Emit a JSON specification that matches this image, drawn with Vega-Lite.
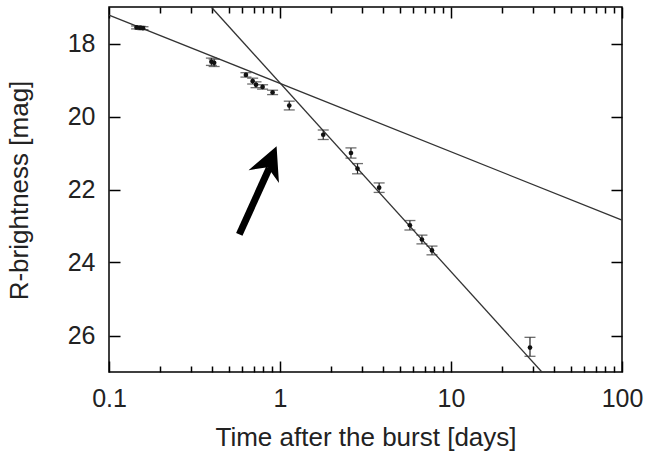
{
  "$schema": "https://vega.github.io/schema/vega-lite/v6.json",
  "autosize": "none",
  "padding": {"left": 109, "top": 7, "right": 32, "bottom": 84},
  "width": 513,
  "height": 365,
  "background": "white",
  "config": {
    "view": {"stroke": "black", "strokeWidth": 1.5},
    "font": "Liberation Sans",
    "axis": {"domain": false, "grid": false, "labelFlush": false, "labelFont": "Liberation Sans", "titleFont": "Liberation Sans", "labelFontSize": 25, "titleFontSize": 26, "labelColor": "#222", "titleColor": "#222", "titleFontWeight": "normal", "tickColor": "black", "tickWidth": 1.5}
  },
  "datasets": {
    "pts": [
      {"t": 0.145, "m": 17.56, "lo": 17.52, "hi": 17.60},
      {"t": 0.152, "m": 17.57, "lo": 17.53, "hi": 17.61},
      {"t": 0.158, "m": 17.58, "lo": 17.54, "hi": 17.62},
      {"t": 0.397, "m": 18.50, "lo": 18.40, "hi": 18.60},
      {"t": 0.412, "m": 18.53, "lo": 18.43, "hi": 18.63},
      {"t": 0.632, "m": 18.86, "lo": 18.80, "hi": 18.92},
      {"t": 0.692, "m": 19.03, "lo": 18.95, "hi": 19.11},
      {"t": 0.724, "m": 19.13, "lo": 19.05, "hi": 19.21},
      {"t": 0.791, "m": 19.19, "lo": 19.13, "hi": 19.25},
      {"t": 0.905, "m": 19.34, "lo": 19.28, "hi": 19.40},
      {"t": 1.133, "m": 19.70, "lo": 19.58, "hi": 19.82},
      {"t": 1.79, "m": 20.50, "lo": 20.37, "hi": 20.63},
      {"t": 2.60, "m": 21.00, "lo": 20.86, "hi": 21.14},
      {"t": 2.84, "m": 21.43, "lo": 21.29, "hi": 21.57},
      {"t": 3.80, "m": 21.95, "lo": 21.82, "hi": 22.08},
      {"t": 5.75, "m": 22.98, "lo": 22.85, "hi": 23.11},
      {"t": 6.76, "m": 23.37, "lo": 23.25, "hi": 23.49},
      {"t": 7.74, "m": 23.67, "lo": 23.55, "hi": 23.79},
      {"t": 28.97, "m": 26.33, "lo": 26.05, "hi": 26.57}
    ],
    "lines": [
      {"fit": "early", "t": 0.1, "m": 17.22},
      {"fit": "early", "t": 100, "m": 22.84},
      {"fit": "late", "t": 0.396, "m": 17.0},
      {"fit": "late", "t": 34.0, "m": 27.0}
    ],
    "shaft": [{"t": 0.578, "m": 23.23, "t2": 0.866, "m2": 21.41}],
    "head": [{"t": 0.876, "m": 21.23}]
  },
  "resolve": {"axis": {"x": "independent", "y": "independent"}},
  "layer": [
    {
      "data": {"name": "lines"},
      "mark": {"type": "line", "color": "#333", "strokeWidth": 1.3},
      "encoding": {
        "x": {"field": "t", "type": "quantitative", "scale": {"type": "log", "domain": [0.1, 100], "nice": false},
              "axis": {"values": [0.1, 1, 10, 100], "format": "~g", "tickSize": -11, "labelPadding": 25, "title": "Time after the burst [days]", "titleY": 73, "titleBaseline": "alphabetic"}},
        "y": {"field": "m", "type": "quantitative", "scale": {"domain": [17, 27], "reverse": true, "zero": false, "nice": false},
              "axis": {"values": [18, 20, 22, 24, 26], "tickSize": -11, "labelPadding": 25, "title": "R-brightness [mag]", "titleX": -90, "titleY": 183, "titleAlign": "center", "titleBaseline": "middle", "titleAngle": -90}},
        "detail": {"field": "fit"}
      }
    },
    {
      "data": {"name": "pts"},
      "mark": {"type": "rule", "color": "#222", "strokeWidth": 1.2},
      "encoding": {
        "x": {"field": "t", "type": "quantitative", "axis": null},
        "y": {"field": "lo", "type": "quantitative", "axis": null},
        "y2": {"field": "hi"}
      }
    },
    {
      "data": {"name": "pts"},
      "mark": {"type": "point", "shape": "stroke", "size": 121, "stroke": "#333", "strokeWidth": 1.3},
      "encoding": {
        "x": {"field": "t", "type": "quantitative", "axis": null},
        "y": {"field": "lo", "type": "quantitative", "axis": null}
      }
    },
    {
      "data": {"name": "pts"},
      "mark": {"type": "point", "shape": "stroke", "size": 121, "stroke": "#333", "strokeWidth": 1.3},
      "encoding": {
        "x": {"field": "t", "type": "quantitative", "axis": null},
        "y": {"field": "hi", "type": "quantitative", "axis": null}
      }
    },
    {
      "data": {"name": "pts"},
      "mark": {"type": "point", "shape": "circle", "filled": true, "size": 22, "color": "#111", "opacity": 1},
      "encoding": {
        "x": {"field": "t", "type": "quantitative", "axis": null},
        "y": {"field": "m", "type": "quantitative", "axis": null}
      }
    },
    {
      "data": {"name": "shaft"},
      "mark": {"type": "rule", "color": "black", "strokeWidth": 7, "strokeCap": "butt"},
      "encoding": {
        "x": {"field": "t", "type": "quantitative", "axis": null},
        "y": {"field": "m", "type": "quantitative", "axis": null},
        "x2": {"field": "t2"},
        "y2": {"field": "m2"}
      }
    },
    {
      "data": {"name": "head"},
      "mark": {"type": "point", "shape": "M0,-1L1,1L0,0.38L-1,1Z", "filled": true, "size": 1089, "angle": 22.9, "color": "black", "opacity": 1},
      "encoding": {
        "x": {"field": "t", "type": "quantitative", "axis": null},
        "y": {"field": "m", "type": "quantitative", "axis": null}
      }
    },
    {
      "data": {"name": "pts"},
      "mark": {"type": "point", "opacity": 0},
      "encoding": {
        "x": {"field": "t", "type": "quantitative",
              "axis": {"orient": "bottom", "values": [0.2, 0.3, 0.4, 0.5, 0.6, 0.7, 0.8, 0.9, 2, 3, 4, 5, 6, 7, 8, 9, 20, 30, 40, 50, 60, 70, 80, 90], "labels": false, "tickSize": -6, "title": null}},
        "y": {"field": "m", "type": "quantitative",
              "axis": {"orient": "right", "values": [18, 20, 22, 24, 26], "labels": false, "tickSize": -11, "title": null}}
      }
    },
    {
      "data": {"name": "pts"},
      "mark": {"type": "point", "opacity": 0},
      "encoding": {
        "x": {"field": "t", "type": "quantitative",
              "axis": {"orient": "top", "values": [0.2, 0.3, 0.4, 0.5, 0.6, 0.7, 0.8, 0.9, 2, 3, 4, 5, 6, 7, 8, 9, 20, 30, 40, 50, 60, 70, 80, 90], "labels": false, "tickSize": -6, "title": null}},
        "y": {"field": "m", "type": "quantitative", "axis": null}
      }
    },
    {
      "data": {"name": "pts"},
      "mark": {"type": "point", "opacity": 0},
      "encoding": {
        "x": {"field": "t", "type": "quantitative",
              "axis": {"orient": "top", "values": [0.1, 1, 10, 100], "labels": false, "tickSize": -11, "title": null}},
        "y": {"field": "m", "type": "quantitative", "axis": null}
      }
    }
  ]
}
